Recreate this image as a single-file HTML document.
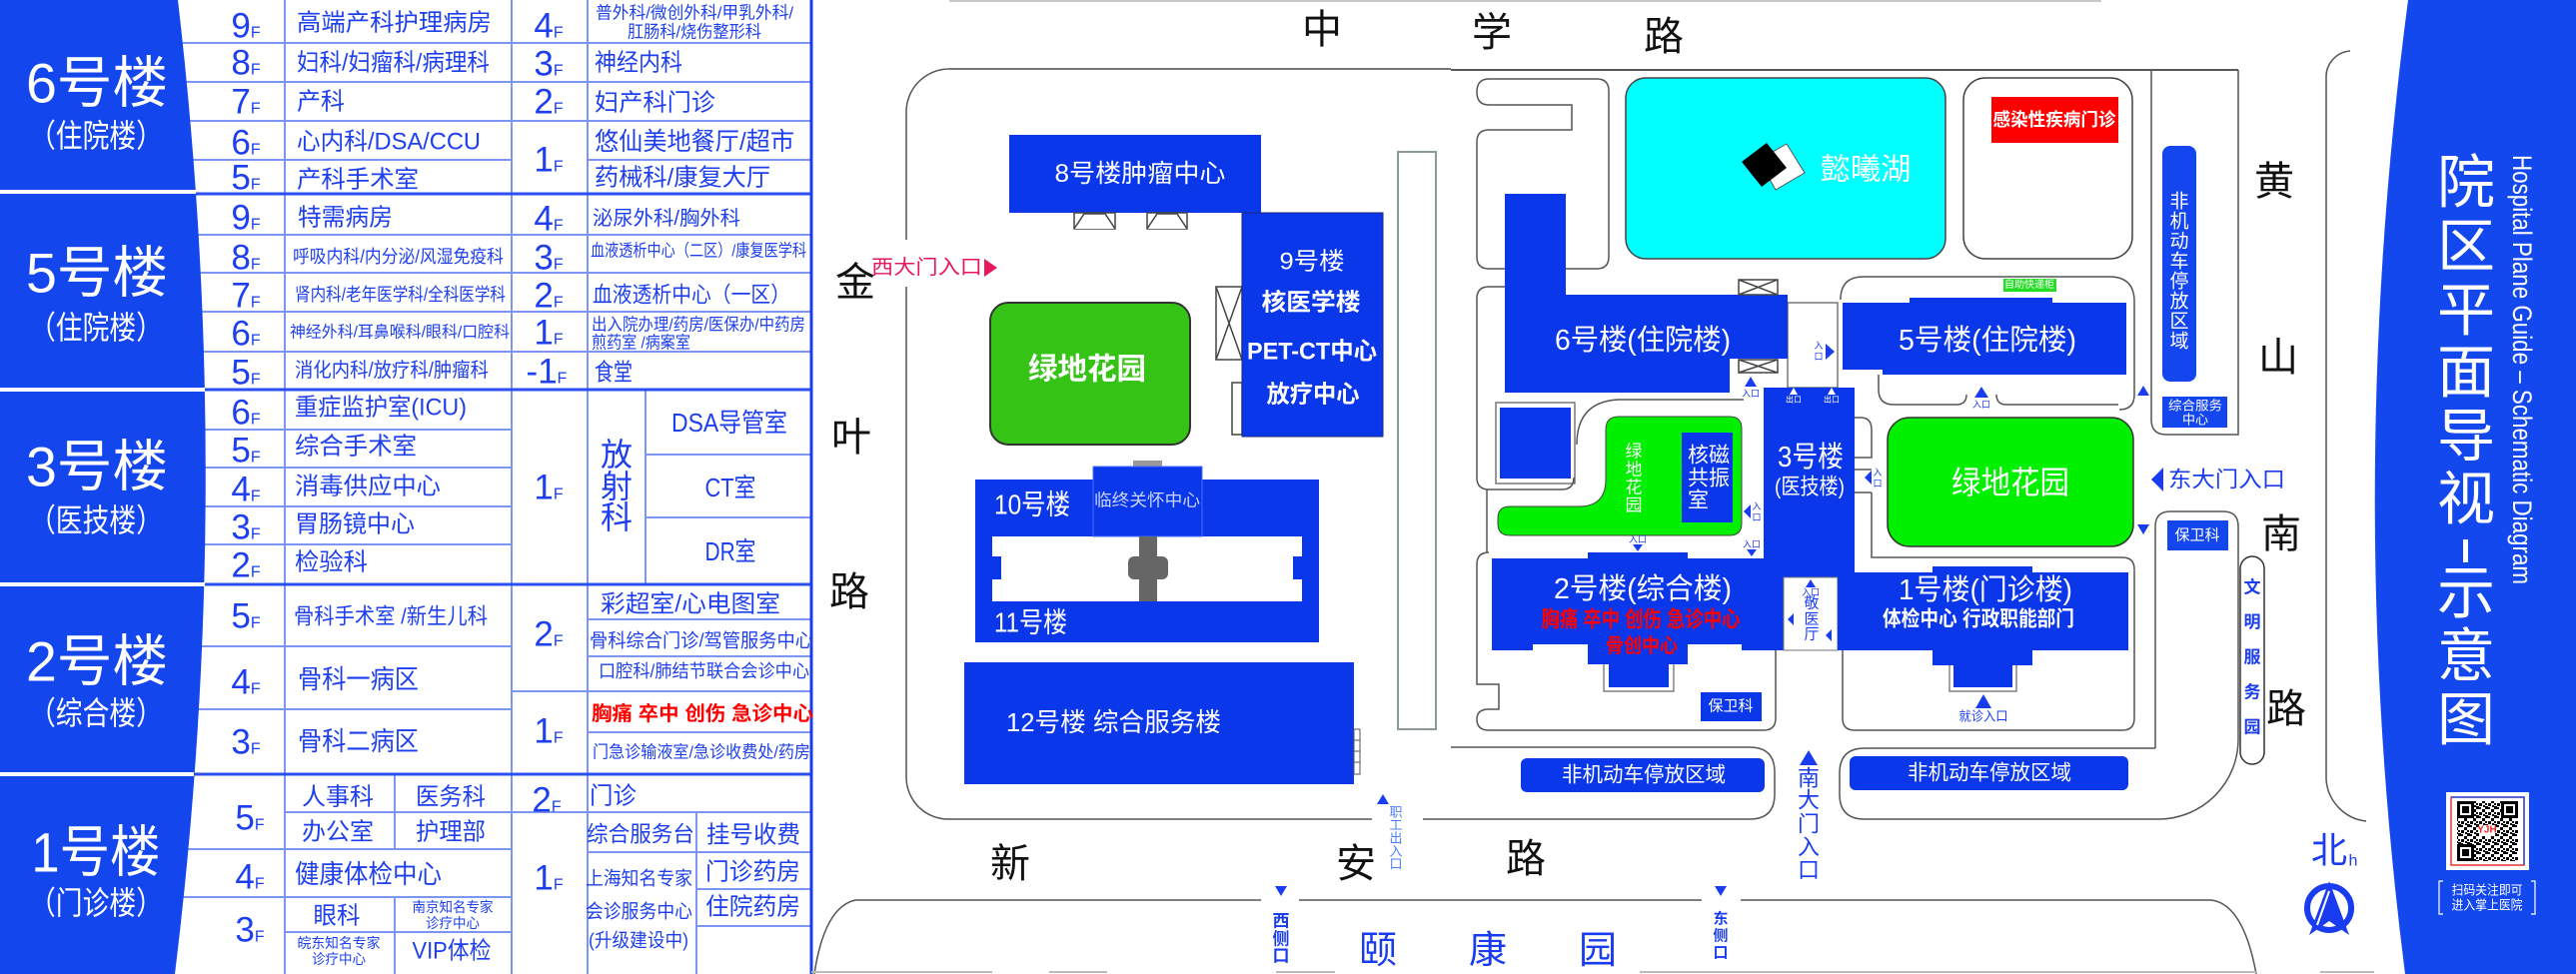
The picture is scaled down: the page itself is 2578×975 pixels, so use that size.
<!DOCTYPE html>
<html><head><meta charset="utf-8">
<style>
html,body{margin:0;padding:0;background:#fff;}
svg{display:block;}
text{font-family:"Liberation Sans","Noto Sans CJK SC",sans-serif;dominant-baseline:central;}
.ab{dominant-baseline:alphabetic;}
.tb{fill:#1d3fef;}
.wh{fill:#fff;}
.bk{fill:#111;}
.rd{fill:#ff0000;}
.bu{fill:#1a3cf0;}
.gl{stroke:#7d95f4;stroke-width:2;fill:none;}
.sl{stroke:#2b4ff0;stroke-width:3;fill:none;}
.ol{stroke:#555;stroke-width:1.5;fill:none;}
.bl{fill:#0b37ea;}
.door{stroke:#444;stroke-width:1.5;fill:#fff;}
</style></head><body>
<svg width="2578" height="975" viewBox="0 0 2578 975" xmlns="http://www.w3.org/2000/svg">
<defs>
<pattern id="qr" width="9" height="9" patternUnits="userSpaceOnUse">
<rect width="9" height="9" fill="#fff"/>
<rect x="0" y="0" width="3" height="3" fill="#000"/>
<rect x="6" y="3" width="3" height="3" fill="#000"/>
<rect x="3" y="6" width="3" height="3" fill="#000"/>
<rect x="3" y="3" width="2" height="2" fill="#000"/>
<rect x="6" y="7" width="2" height="2" fill="#000"/>
<rect x="1" y="5" width="2" height="2" fill="#000"/>
</pattern>
</defs>

<!-- ================= TABLE ================= -->
<path class="gl" d="M285,0V975 M512,0V975 M588,0V975 M646,390V585 M395,775V850 M395,898V975 M697,813V975"/>
<path class="gl" d="M150,43H512 M150,82H512 M150,121H512 M150,160H512
M150,235H512 M150,273H512 M150,312H512 M150,352H512
M150,430H512 M150,468H512 M150,507H512 M150,545H512
M150,647H512 M150,710H512
M285,813H512 M150,850H512 M150,898H512 M285,933H512
M512,43H812 M512,82H812 M512,121H812 M588,160H812
M512,235H812 M512,273H812 M512,312H812 M512,352H812
M646,455H812 M646,518H812
M588,620H812 M588,657H812 M512,692H812 M588,733H812
M512,813H812 M588,853H812 M697,890H812 M697,927H812"/>
<path class="sl" d="M150,194H812 M150,390H812 M150,585H812 M150,775H812"/>
<path d="M812,0V975" stroke="#1a3cf0" stroke-width="3"/>

<!-- blue side panel -->
<path d="M0,0 L178,0 Q235,487 175,975 L0,975Z" fill="#1446ee"/>
<path d="M0,192H196 M0,390H205 M0,585H205 M0,775H194" stroke="#fff" stroke-width="4"/>

<text class="wh" x="97" y="83" font-size="56" text-anchor="middle" textLength="142" lengthAdjust="spacingAndGlyphs">6号楼</text>
<text class="wh" x="96" y="136" font-size="32" text-anchor="middle" textLength="134" lengthAdjust="spacingAndGlyphs">（住院楼）</text>
<text class="wh" x="97" y="273" font-size="56" text-anchor="middle" textLength="142" lengthAdjust="spacingAndGlyphs">5号楼</text>
<text class="wh" x="96" y="328" font-size="32" text-anchor="middle" textLength="134" lengthAdjust="spacingAndGlyphs">（住院楼）</text>
<text class="wh" x="97" y="467" font-size="56" text-anchor="middle" textLength="142" lengthAdjust="spacingAndGlyphs">3号楼</text>
<text class="wh" x="96" y="521" font-size="32" text-anchor="middle" textLength="134" lengthAdjust="spacingAndGlyphs">（医技楼）</text>
<text class="wh" x="97" y="662" font-size="56" text-anchor="middle" textLength="142" lengthAdjust="spacingAndGlyphs">2号楼</text>
<text class="wh" x="96" y="714" font-size="32" text-anchor="middle" textLength="134" lengthAdjust="spacingAndGlyphs">（综合楼）</text>
<text class="wh" x="96" y="853" font-size="56" text-anchor="middle" textLength="129" lengthAdjust="spacingAndGlyphs">1号楼</text>
<text class="wh" x="96" y="904" font-size="32" text-anchor="middle" textLength="134" lengthAdjust="spacingAndGlyphs">（门诊楼）</text>

<!-- floor labels left -->
<g class="tb" text-anchor="middle">
<text class="ab" x="246" y="37.5"><tspan font-size="35">9</tspan><tspan font-size="16">F</tspan></text>
<text class="ab" x="246" y="74.5"><tspan font-size="35">8</tspan><tspan font-size="16">F</tspan></text>
<text class="ab" x="246" y="113.5"><tspan font-size="35">7</tspan><tspan font-size="16">F</tspan></text>
<text class="ab" x="246" y="154.5"><tspan font-size="35">6</tspan><tspan font-size="16">F</tspan></text>
<text class="ab" x="246" y="189.5"><tspan font-size="35">5</tspan><tspan font-size="16">F</tspan></text>
<text class="ab" x="246" y="229.5"><tspan font-size="35">9</tspan><tspan font-size="16">F</tspan></text>
<text class="ab" x="246" y="269.5"><tspan font-size="35">8</tspan><tspan font-size="16">F</tspan></text>
<text class="ab" x="246" y="307.5"><tspan font-size="35">7</tspan><tspan font-size="16">F</tspan></text>
<text class="ab" x="246" y="345.5"><tspan font-size="35">6</tspan><tspan font-size="16">F</tspan></text>
<text class="ab" x="246" y="384.5"><tspan font-size="35">5</tspan><tspan font-size="16">F</tspan></text>
<text class="ab" x="246" y="424.5"><tspan font-size="35">6</tspan><tspan font-size="16">F</tspan></text>
<text class="ab" x="246" y="462.5"><tspan font-size="35">5</tspan><tspan font-size="16">F</tspan></text>
<text class="ab" x="246" y="501.5"><tspan font-size="35">4</tspan><tspan font-size="16">F</tspan></text>
<text class="ab" x="246" y="539.5"><tspan font-size="35">3</tspan><tspan font-size="16">F</tspan></text>
<text class="ab" x="246" y="577.5"><tspan font-size="35">2</tspan><tspan font-size="16">F</tspan></text>
<text class="ab" x="246" y="628.5"><tspan font-size="35">5</tspan><tspan font-size="16">F</tspan></text>
<text class="ab" x="246" y="694.5"><tspan font-size="35">4</tspan><tspan font-size="16">F</tspan></text>
<text class="ab" x="246" y="754.5"><tspan font-size="35">3</tspan><tspan font-size="16">F</tspan></text>
<text class="ab" x="250" y="830.5"><tspan font-size="35">5</tspan><tspan font-size="16">F</tspan></text>
<text class="ab" x="250" y="889.5"><tspan font-size="35">4</tspan><tspan font-size="16">F</tspan></text>
<text class="ab" x="250" y="942.5"><tspan font-size="35">3</tspan><tspan font-size="16">F</tspan></text>
<!-- right -->
<text class="ab" x="549" y="37.5"><tspan font-size="35">4</tspan><tspan font-size="16">F</tspan></text>
<text class="ab" x="549" y="75.5"><tspan font-size="35">3</tspan><tspan font-size="16">F</tspan></text>
<text class="ab" x="549" y="113.5"><tspan font-size="35">2</tspan><tspan font-size="16">F</tspan></text>
<text class="ab" x="549" y="171.5"><tspan font-size="35">1</tspan><tspan font-size="16">F</tspan></text>
<text class="ab" x="549" y="230.5"><tspan font-size="35">4</tspan><tspan font-size="16">F</tspan></text>
<text class="ab" x="549" y="269.5"><tspan font-size="35">3</tspan><tspan font-size="16">F</tspan></text>
<text class="ab" x="549" y="307.5"><tspan font-size="35">2</tspan><tspan font-size="16">F</tspan></text>
<text class="ab" x="549" y="344.5"><tspan font-size="35">1</tspan><tspan font-size="16">F</tspan></text>
<text class="ab" x="547" y="383.5"><tspan font-size="35">-1</tspan><tspan font-size="16">F</tspan></text>
<text class="ab" x="549" y="499.5"><tspan font-size="35">1</tspan><tspan font-size="16">F</tspan></text>
<text class="ab" x="549" y="646.5"><tspan font-size="35">2</tspan><tspan font-size="16">F</tspan></text>
<text class="ab" x="549" y="743.5"><tspan font-size="35">1</tspan><tspan font-size="16">F</tspan></text>
<text class="ab" x="547" y="812.5"><tspan font-size="35">2</tspan><tspan font-size="16">F</tspan></text>
<text class="ab" x="549" y="890.5"><tspan font-size="35">1</tspan><tspan font-size="16">F</tspan></text>
</g>

<!-- dept texts -->
<g class="tb">
<text x="297" y="23" font-size="24" textLength="195" lengthAdjust="spacingAndGlyphs">高端产科护理病房</text>
<text x="297" y="63" font-size="24" textLength="193" lengthAdjust="spacingAndGlyphs">妇科/妇瘤科/病理科</text>
<text x="297" y="102" font-size="24" textLength="48" lengthAdjust="spacingAndGlyphs">产科</text>
<text x="297" y="142" font-size="24" textLength="184" lengthAdjust="spacingAndGlyphs">心内科/DSA/CCU</text>
<text x="297" y="180" font-size="24" textLength="122" lengthAdjust="spacingAndGlyphs">产科手术室</text>
<text x="298" y="218" font-size="24" textLength="95" lengthAdjust="spacingAndGlyphs">特需病房</text>
<text x="293" y="257" font-size="18" textLength="211" lengthAdjust="spacingAndGlyphs">呼吸内科/内分泌/风湿免疫科</text>
<text x="295" y="295" font-size="18" textLength="211" lengthAdjust="spacingAndGlyphs">肾内科/老年医学科/全科医学科</text>
<text x="290" y="333" font-size="16" textLength="220" lengthAdjust="spacingAndGlyphs">神经外科/耳鼻喉科/眼科/口腔科</text>
<text x="295" y="371" font-size="20" textLength="194" lengthAdjust="spacingAndGlyphs">消化内科/放疗科/肿瘤科</text>
<text x="295" y="408" font-size="24" textLength="172" lengthAdjust="spacingAndGlyphs">重症监护室(ICU)</text>
<text x="295" y="447" font-size="24" textLength="122" lengthAdjust="spacingAndGlyphs">综合手术室</text>
<text x="295" y="487" font-size="24" textLength="146" lengthAdjust="spacingAndGlyphs">消毒供应中心</text>
<text x="295" y="525" font-size="24" textLength="120" lengthAdjust="spacingAndGlyphs">胃肠镜中心</text>
<text x="295" y="563" font-size="24" textLength="73" lengthAdjust="spacingAndGlyphs">检验科</text>
<text x="294" y="617" font-size="22" textLength="194" lengthAdjust="spacingAndGlyphs">骨科手术室 /新生儿科</text>
<text x="298" y="680" font-size="26" textLength="121" lengthAdjust="spacingAndGlyphs">骨科一病区</text>
<text x="298" y="742" font-size="26" textLength="121" lengthAdjust="spacingAndGlyphs">骨科二病区</text>
<text x="295" y="875" font-size="26" textLength="147" lengthAdjust="spacingAndGlyphs">健康体检中心</text>
<g text-anchor="middle">
<text x="338" y="798" font-size="24" textLength="72" lengthAdjust="spacingAndGlyphs">人事科</text>
<text x="451" y="798" font-size="24" textLength="70" lengthAdjust="spacingAndGlyphs">医务科</text>
<text x="338" y="833" font-size="24" textLength="72" lengthAdjust="spacingAndGlyphs">办公室</text>
<text x="451" y="833" font-size="24" textLength="70" lengthAdjust="spacingAndGlyphs">护理部</text>
<text x="337" y="917" font-size="24" textLength="47" lengthAdjust="spacingAndGlyphs">眼科</text>
<text x="453" y="908" font-size="14" textLength="81" lengthAdjust="spacingAndGlyphs">南京知名专家</text>
<text x="453" y="924" font-size="14" textLength="54" lengthAdjust="spacingAndGlyphs">诊疗中心</text>
<text x="339" y="944" font-size="14" textLength="83" lengthAdjust="spacingAndGlyphs">皖东知名专家</text>
<text x="339" y="960" font-size="14" textLength="54" lengthAdjust="spacingAndGlyphs">诊疗中心</text>
<text x="452" y="952" font-size="24" textLength="79" lengthAdjust="spacingAndGlyphs">VIP体检</text>
<text x="617" y="455" font-size="32">放</text>
<text x="617" y="487" font-size="32">射</text>
<text x="617" y="518" font-size="32">科</text>
<text x="730" y="423" font-size="26" textLength="116" lengthAdjust="spacingAndGlyphs">DSA导管室</text>
<text x="731" y="488" font-size="26" textLength="51" lengthAdjust="spacingAndGlyphs">CT室</text>
<text x="731" y="552" font-size="26" textLength="51" lengthAdjust="spacingAndGlyphs">DR室</text>
</g>
<text x="596" y="13" font-size="17" textLength="198" lengthAdjust="spacingAndGlyphs">普外科/微创外科/甲乳外科/</text>
<text x="628" y="32" font-size="17" textLength="134" lengthAdjust="spacingAndGlyphs">肛肠科/烧伤整形科</text>
<text x="595" y="63" font-size="24" textLength="88" lengthAdjust="spacingAndGlyphs">神经内科</text>
<text x="595" y="103" font-size="24" textLength="121" lengthAdjust="spacingAndGlyphs">妇产科门诊</text>
<text x="595" y="142" font-size="25" textLength="200" lengthAdjust="spacingAndGlyphs">悠仙美地餐厅/超市</text>
<text x="595" y="178" font-size="24" textLength="176" lengthAdjust="spacingAndGlyphs">药械科/康复大厅</text>
<text x="593" y="219" font-size="20" textLength="148" lengthAdjust="spacingAndGlyphs">泌尿外科/胸外科</text>
<text x="591" y="251" font-size="17" textLength="216" lengthAdjust="spacingAndGlyphs">血液透析中心（二区）/康复医学科</text>
<text x="593" y="295" font-size="22" textLength="198" lengthAdjust="spacingAndGlyphs">血液透析中心（一区）</text>
<text x="592" y="325" font-size="17" textLength="214" lengthAdjust="spacingAndGlyphs">出入院办理/药房/医保办/中药房</text>
<text x="592" y="343" font-size="17" textLength="99" lengthAdjust="spacingAndGlyphs">煎药室 /病案室</text>
<text x="595" y="373" font-size="24" textLength="38" lengthAdjust="spacingAndGlyphs">食堂</text>
<text x="601" y="605" font-size="24" textLength="180" lengthAdjust="spacingAndGlyphs">彩超室/心电图室</text>
<text x="590" y="642" font-size="19" textLength="224" lengthAdjust="spacingAndGlyphs">骨科综合门诊/驾管服务中心</text>
<text x="599" y="672" font-size="18" textLength="211" lengthAdjust="spacingAndGlyphs">口腔科/肺结节联合会诊中心</text>
<text x="592" y="715" font-size="20" font-weight="bold" fill="#ff0000" textLength="222" lengthAdjust="spacingAndGlyphs">胸痛  卒中  创伤  急诊中心</text>
<text x="593" y="753" font-size="17" textLength="218" lengthAdjust="spacingAndGlyphs">门急诊输液室/急诊收费处/药房</text>
<text x="590" y="797" font-size="24" textLength="47" lengthAdjust="spacingAndGlyphs">门诊</text>
<text x="587" y="835" font-size="22" textLength="108" lengthAdjust="spacingAndGlyphs">综合服务台</text>
<text x="707" y="836" font-size="24" textLength="94" lengthAdjust="spacingAndGlyphs">挂号收费</text>
<text x="586" y="880" font-size="19" textLength="107" lengthAdjust="spacingAndGlyphs">上海知名专家</text>
<text x="586" y="913" font-size="19" textLength="107" lengthAdjust="spacingAndGlyphs">会诊服务中心</text>
<text x="589" y="942" font-size="19" textLength="100" lengthAdjust="spacingAndGlyphs">(升级建设中)</text>
<text x="706" y="873" font-size="24" textLength="95" lengthAdjust="spacingAndGlyphs">门诊药房</text>
<text x="706" y="908" font-size="24" textLength="95" lengthAdjust="spacingAndGlyphs">住院药房</text>
</g>

<!-- ================= MAP ================= -->
<path d="M950,1H2103" stroke="#c8c8c8" stroke-width="2"/>
<path d="M950,69H1452" stroke="#777" stroke-width="2"/>
<path d="M1452,70H2240" stroke="#222" stroke-width="1.5"/>
<!-- left campus outline -->
<path class="ol" d="M950,69 A43,43 0 0 0 907,112 V240 M907,287 V778 A42,42 0 0 0 949,820 H1373 M1424,820 H1751 Q1776,820 1776,795 V773 Q1776,748 1751,748 H1452"/>
<!-- vertical road rect -->
<rect x="1399" y="152" width="38" height="578" fill="none" stroke="#8a9a9a" stroke-width="2"/>
<!-- bottom road -->
<path class="ol" d="M815,975 Q825,908 856,901 H1262 M1300,901 H1703 M1742,901 H2213 Q2245,905 2258,975"/>
<path d="M812,973H993 M1050,973H1108 M1277,973H1336 M1641,973H2258 M2322,973H2376" stroke="#bbb" stroke-width="2"/>
<!-- right road -->
<path class="ol" d="M2352,51 A26,26 0 0 0 2328,78 V780 A45,45 0 0 0 2368,822"/>
<path class="ol" d="M2153,70 V420 Q2153,435 2168,435 H2240 V70"/>
<path class="ol" d="M2157,749 V527 Q2157,512 2172,512 H2225 Q2240,512 2240,527 V740 A80,80 0 0 1 2160,820"/>
<path class="ol" d="M2157,749 H1866 Q1841,749 1841,774 V795 Q1841,820 1866,820 H2160"/>
<rect x="2242" y="557" width="24" height="208" rx="12" fill="none" stroke="#333" stroke-width="1.5"/>

<!-- road names -->
<g class="bk" font-size="40" text-anchor="middle">
<text x="1323" y="30">中</text>
<text x="1493" y="33">学</text>
<text x="1665" y="37">路</text>
<text x="856" y="283">金</text>
<text x="852" y="438">叶</text>
<text x="850" y="593">路</text>
<text x="1011" y="865">新</text>
<text x="1357" y="865">安</text>
<text x="1527" y="860">路</text>
<text x="2276" y="182">黄</text>
<text x="2280" y="358">山</text>
<text x="2283" y="535">南</text>
<text x="2288" y="710">路</text>
</g>
<g class="bu" font-size="38" text-anchor="middle">
<text x="1379" y="952">颐</text>
<text x="1489" y="952">康</text>
<text x="1599" y="952">园</text>
</g>

<!-- west gate -->
<text x="872" y="268" font-size="20" fill="#e6195a" textLength="111" lengthAdjust="spacingAndGlyphs">西大门入口</text>
<polygon points="985,259 998,268 985,277" fill="#e6195a"/>

<!-- 8号楼 -->
<rect class="bl" x="1010" y="135" width="252" height="78"/>
<text class="wh" x="1141" y="174" font-size="25" text-anchor="middle" textLength="171" lengthAdjust="spacingAndGlyphs">8号楼肿瘤中心</text>
<g class="door">
<rect x="1075" y="213" width="41" height="16"/><path d="M1075,229 L1085,214 H1106 L1116,229"/>
<rect x="1148" y="213" width="40" height="16"/><path d="M1148,229 L1158,214 H1178 L1188,229"/>
<rect x="1217" y="287" width="26" height="73"/><path d="M1217,287 L1243,360 M1243,287 L1217,360"/>
<rect x="1233" y="383" width="10" height="52"/>
</g>
<!-- 9号楼 -->
<rect class="bl" x="1243" y="213" width="141" height="224" stroke="#1b2a7a" stroke-width="1"/>
<g class="wh" text-anchor="middle" font-weight="bold">
<text x="1313" y="262" font-size="24" font-weight="normal" textLength="65" lengthAdjust="spacingAndGlyphs">9号楼</text>
<text x="1312" y="303" font-size="24" textLength="99" lengthAdjust="spacingAndGlyphs">核医学楼</text>
<text x="1313" y="352" font-size="24" textLength="130" lengthAdjust="spacingAndGlyphs">PET-CT中心</text>
<text x="1314" y="395" font-size="24" textLength="93" lengthAdjust="spacingAndGlyphs">放疗中心</text>
</g>
<!-- left green garden -->
<rect x="991" y="303" width="200" height="142" rx="18" fill="#35c416" stroke="#333" stroke-width="2"/>
<text class="wh" x="1088" y="370" font-size="30" font-weight="bold" text-anchor="middle" textLength="118" lengthAdjust="spacingAndGlyphs">绿地花园</text>
<!-- 10/11 -->
<rect x="1134" y="461" width="29" height="6" fill="#999"/>
<rect class="bl" x="976" y="480" width="344" height="57"/>
<rect class="bl" x="1094" y="467" width="109" height="70" stroke="#4a6cf5" stroke-width="1"/>
<rect class="bl" x="976" y="537" width="17" height="65"/>
<rect class="bl" x="1303" y="537" width="17" height="65"/>
<rect class="bl" x="993" y="557" width="9" height="23"/>
<rect class="bl" x="1294" y="557" width="9" height="23"/>
<rect x="1140" y="537" width="18" height="65" fill="#666"/>
<rect x="1129" y="557" width="40" height="23" rx="6" fill="#666"/>
<rect class="bl" x="976" y="602" width="344" height="41"/>
<text class="wh" x="995" y="505" font-size="28" textLength="76" lengthAdjust="spacingAndGlyphs">10号楼</text>
<text x="1148" y="501" font-size="17" text-anchor="middle" fill="#c9d5ff" textLength="106" lengthAdjust="spacingAndGlyphs">临终关怀中心</text>
<text class="wh" x="995" y="623" font-size="28" textLength="73" lengthAdjust="spacingAndGlyphs">11号楼</text>
<!-- 12号楼 -->
<rect class="bl" x="965" y="663" width="390" height="122"/>
<text class="wh" x="1007" y="723" font-size="26" textLength="215" lengthAdjust="spacingAndGlyphs">12号楼  综合服务楼</text>
<rect x="1355" y="730" width="6" height="45" fill="#fff" stroke="#555" stroke-width="1"/>
<path d="M1355,741H1361 M1355,752H1361 M1355,763H1361" stroke="#555"/>
<!-- 职工出入口 -->
<polygon points="1384,795 1390,805 1378,805" fill="#1a3cf0"/>
<g fill="#4d7ff5" font-size="13" text-anchor="middle">
<text x="1397" y="813">职</text><text x="1397" y="826">工</text><text x="1397" y="839">出</text><text x="1397" y="852">入</text><text x="1397" y="865">口</text>
</g>
<!-- 西侧口 / 东侧口 -->
<polygon points="1276,887 1288,887 1282,897" fill="#1a3cf0"/>
<g class="bu" font-size="17" font-weight="bold" text-anchor="middle">
<text x="1282" y="922">西</text><text x="1282" y="940">侧</text><text x="1282" y="957">口</text>
</g>
<polygon points="1716,887 1728,887 1722,897" fill="#1a3cf0"/>
<g class="bu" font-size="15" font-weight="bold" text-anchor="middle">
<text x="1722" y="920">东</text><text x="1722" y="937">侧</text><text x="1722" y="954">口</text>
</g>

<!-- RIGHT CAMPUS outlines -->
<path class="ol" d="M1490,79 H1598 Q1610,79 1610,91 V257 Q1610,269 1598,269 H1490 Q1478,269 1478,257 V142 Q1478,130 1490,130 H1573 V105 H1490 Q1478,105 1478,92 Q1478,79 1490,79Z"/>
<path class="ol" d="M1506,287 H1490 Q1478,287 1478,299 V478 Q1478,490 1490,490 H1563 Q1575,490 1575,478"/>
<path class="ol" d="M1578,445 Q1578,402 1620,400 H1745"/>
<rect x="1497" y="403" width="79" height="81" fill="none" stroke="#555" stroke-width="1.2"/>
<path class="ol" d="M1488,490 V553"/>
<path class="ol" d="M1490,553 Q1478,553 1478,565 V685 H1500 V710 H1490 Q1478,710 1478,720 Q1478,731 1490,731 H1765 Q1777,731 1777,719 V651"/>
<path class="ol" d="M1873,493 V558 H2124 Q2136,558 2136,570 V719 Q2136,731 2124,731 H1856 Q1844,731 1844,719 V651"/>
<path class="ol" d="M1842,300 Q1842,277 1865,277 H2111 Q2136,277 2136,302 V395 Q2136,410 2121,410"/>
<path class="ol" d="M1880,375 V390 Q1880,405 1895,405 H1958 Q1968,405 1968,395 M1998,395 Q1998,405 2008,405 H2120"/>
<path class="ol" d="M1856,418 H1862 Q1873,418 1873,430 V458 H1856 M1856,470 H1873 M1856,493 H1873"/>
<rect x="1789" y="303" width="50" height="85" fill="none" stroke="#555" stroke-width="1.2"/>

<!-- lake -->
<rect x="1627" y="78" width="320" height="181" rx="20" fill="#00ffff" stroke="#444" stroke-width="1.5"/>
<polygon points="1788,144 1806,173 1777,190 1760,160" fill="#fff" stroke="#555" stroke-width="1"/>
<polygon points="1768,143 1788,168 1763,187 1743,162" fill="#000"/>
<text class="wh" x="1867" y="170" font-size="30" text-anchor="middle" textLength="91" lengthAdjust="spacingAndGlyphs">懿曦湖</text>
<!-- infection -->
<rect x="1965" y="78" width="169" height="181" rx="22" fill="none" stroke="#444" stroke-width="1.5"/>
<rect x="1993" y="97" width="127" height="46" fill="#ff0000"/>
<text class="wh" x="2056" y="120" font-size="18" font-weight="bold" text-anchor="middle" textLength="123" lengthAdjust="spacingAndGlyphs">感染性疾病门诊</text>

<!-- 6号楼 -->
<path class="bl" d="M1506,194 L1567,194 L1567,295 L1789,295 L1789,359 L1731,359 L1731,393 L1506,393 Z"/>
<text class="wh" x="1644" y="341" font-size="29" text-anchor="middle" textLength="176" lengthAdjust="spacingAndGlyphs">6号楼(住院楼)</text>
<g class="door">
<rect x="1740" y="280" width="39" height="15"/><path d="M1740,280 L1779,295 M1779,280 L1740,295"/>
<rect x="1740" y="360" width="39" height="13"/><path d="M1740,360 L1779,373 M1779,360 L1740,373"/>
</g>
<!-- small blue square -->
<rect class="bl" x="1501" y="408" width="71" height="71"/>
<!-- small green -->
<path d="M1620,417 L1731,417 Q1743,417 1743,429 L1743,524 Q1743,536 1731,536 L1511,536 Q1499,536 1499,524 L1499,519 Q1499,507 1511,507 L1580,507 Q1607,507 1607,480 L1607,430 Q1607,417 1620,417 Z" fill="#00f000" stroke="#444" stroke-width="1"/>
<g class="wh" font-size="17" text-anchor="middle">
<text x="1635" y="452">绿</text><text x="1635" y="470">地</text><text x="1635" y="488">花</text><text x="1635" y="506">园</text>
</g>
<rect class="bl" x="1683" y="433" width="51" height="90"/>
<g class="wh" font-size="21">
<text x="1689" y="456" textLength="42" lengthAdjust="spacingAndGlyphs">核磁</text>
<text x="1689" y="479" textLength="42" lengthAdjust="spacingAndGlyphs">共振</text>
<text x="1689" y="501">室</text>
</g>
<!-- 3号楼 -->
<rect class="bl" x="1765" y="388" width="91" height="190"/>
<text class="wh" x="1812" y="458" font-size="29" text-anchor="middle" textLength="66" lengthAdjust="spacingAndGlyphs">3号楼</text>
<text class="wh" x="1811" y="487" font-size="22" text-anchor="middle" textLength="70" lengthAdjust="spacingAndGlyphs">(医技楼)</text>
<!-- 5号楼 -->
<path class="bl" d="M1844,303 H1911 V298 H2054 V303 H2128 V375 H1884 V370 H1844 Z"/>
<text class="wh" x="1989" y="341" font-size="29" text-anchor="middle" textLength="178" lengthAdjust="spacingAndGlyphs">5号楼(住院楼)</text>
<rect x="2005" y="279" width="53" height="13" fill="#22dd22"/>
<text class="wh" x="2031" y="285.5" font-size="10" text-anchor="middle" textLength="50" lengthAdjust="spacingAndGlyphs">自助快递柜</text>
<!-- big green -->
<rect x="1889" y="418" width="246" height="129" rx="22" fill="#00f000" stroke="#333" stroke-width="1.5"/>
<text class="wh" x="2012" y="483" font-size="32" text-anchor="middle" textLength="118" lengthAdjust="spacingAndGlyphs">绿地花园</text>
<!-- 2号楼 -->
<path class="bl" d="M1493,559 H1589 V553 H1689 V559 H1785 V651 H1743 V645 H1689 V665 H1670 V688 H1610 V665 H1589 V645 H1534 V651 H1493 Z"/>
<path d="M1605,665 V692 H1675 V665" fill="none" stroke="#666" stroke-width="1.2"/>
<text class="wh" x="1644" y="590" font-size="29" text-anchor="middle" textLength="178" lengthAdjust="spacingAndGlyphs">2号楼(综合楼)</text>
<text x="1642" y="620" font-size="22" font-weight="bold" fill="#ff0000" text-anchor="middle" textLength="199" lengthAdjust="spacingAndGlyphs">胸痛 卒中 创伤 急诊中心</text>
<text x="1643" y="647" font-size="20" font-weight="bold" fill="#ff0000" text-anchor="middle" textLength="72" lengthAdjust="spacingAndGlyphs">骨创中心</text>
<!-- connector & 敬医厅 -->
<rect class="bl" x="1785" y="553" width="71" height="25"/>
<rect x="1785" y="578" width="54" height="73" fill="#fff" stroke="#777" stroke-width="1"/>
<g class="bu" font-size="15" text-anchor="middle">
<text x="1813" y="604">敬</text><text x="1813" y="620">医</text><text x="1813" y="635">厅</text>
</g>
<!-- 1号楼 -->
<path class="bl" d="M1839,573 H1934 V567 H2034 V573 H2130 V651 H2034 V666 H2014 V688 H1955 V666 H1934 V651 H1839 Z"/>
<path d="M1951,666 V692 H2018 V666" fill="none" stroke="#666" stroke-width="1.2"/>
<text class="wh" x="1987" y="591" font-size="29" text-anchor="middle" textLength="174" lengthAdjust="spacingAndGlyphs">1号楼(门诊楼)</text>
<text class="wh" x="1980" y="620" font-size="21" font-weight="bold" text-anchor="middle" textLength="192" lengthAdjust="spacingAndGlyphs">体检中心  行政职能部门</text>
<polygon points="1985,695 1993,709 1977,709" fill="#1a3cf0"/>
<text class="bu" x="1985" y="717" font-size="13" text-anchor="middle" textLength="49" lengthAdjust="spacingAndGlyphs">就诊入口</text>
<!-- 保卫科 -->
<rect class="bl" x="1702" y="693" width="61" height="29"/>
<text class="wh" x="1732" y="707" font-size="15" text-anchor="middle">保卫科</text>

<!-- small markers -->
<g class="bu" font-size="9" text-anchor="middle">
<polygon points="1752,377 1758,387 1746,387"/><text x="1752" y="394">入口</text>
<polygon points="1983,387 1990,398 1976,398"/><text x="1983" y="405">入口</text>
<polygon points="2145,386 2151,396 2139,396"/>
<polygon points="2139,525 2151,525 2145,535"/>
<text x="1820" y="346">入</text><text x="1820" y="357">口</text><polygon points="1827,344 1836,352 1827,360"/>
<polygon points="1873,471 1873,485 1866,478"/><text x="1879" y="473">入</text><text x="1879" y="484">口</text>
<polygon points="1752,505 1752,519 1745,512"/><text x="1758" y="507">入</text><text x="1758" y="518">口</text>
<text x="1639" y="540">入口</text><polygon points="1634,545 1644,545 1639,552"/>
<text x="1753" y="545">入口</text><polygon points="1748,550 1758,550 1753,557"/>
<polygon points="1812,580 1817,588 1807,588"/><text x="1812" y="593">入口</text>
<polygon points="1795,614 1795,626 1789,620"/><polygon points="1833,630 1833,642 1827,636"/>
</g>
<g class="wh" font-size="8" text-anchor="middle">
<polygon points="1795,388 1799,395 1791,395"/><text x="1795" y="400">出口</text>
<polygon points="1833,388 1837,395 1829,395"/><text x="1833" y="400">出口</text>
</g>

<!-- parking -->
<rect class="bl" x="1522" y="759" width="244" height="34" rx="6" fill="#1446f0"/>
<text class="wh" x="1645" y="776" font-size="21" text-anchor="middle" textLength="164" lengthAdjust="spacingAndGlyphs">非机动车停放区域</text>
<rect class="bl" x="1851" y="757" width="279" height="34" rx="6"/>
<text class="wh" x="1991" y="774" font-size="21" text-anchor="middle" textLength="164" lengthAdjust="spacingAndGlyphs">非机动车停放区域</text>
<!-- 南大门入口 -->
<polygon points="1810,751 1819,766 1801,766" fill="#1a3cf0"/>
<g class="bu" font-size="22" text-anchor="middle">
<text x="1810" y="779">南</text><text x="1810" y="801">大</text><text x="1810" y="825">门</text><text x="1810" y="848">入</text><text x="1810" y="871">口</text>
</g>

<!-- right road contents -->
<rect x="2164" y="146" width="34" height="236" rx="8" fill="#1446f0"/>
<g class="wh" font-size="19" text-anchor="middle">
<text x="2181" y="202">非</text><text x="2181" y="222">机</text><text x="2181" y="242">动</text><text x="2181" y="262">车</text><text x="2181" y="282">停</text><text x="2181" y="302">放</text><text x="2181" y="322">区</text><text x="2181" y="342">域</text>
</g>
<rect x="2164" y="397" width="65" height="31" fill="#1446f0"/>
<text class="wh" x="2197" y="406" font-size="13" text-anchor="middle" textLength="54" lengthAdjust="spacingAndGlyphs">综合服务</text>
<text class="wh" x="2197" y="420" font-size="13" text-anchor="middle">中心</text>
<polygon points="2165,468 2165,492 2153,480" fill="#1a3cf0"/>
<text class="bu" x="2170" y="480" font-size="22" textLength="117" lengthAdjust="spacingAndGlyphs">东大门入口</text>
<rect x="2169" y="521" width="61" height="30" fill="#1446f0"/>
<text class="wh" x="2199" y="536" font-size="15" text-anchor="middle">保卫科</text>
<g class="bu" font-size="17" font-weight="bold" text-anchor="middle">
<text x="2254" y="588">文</text><text x="2254" y="623">明</text><text x="2254" y="658">服</text><text x="2254" y="693">务</text><text x="2254" y="728">园</text>
</g>
<!-- compass -->
<text class="bu" x="2331" y="851" font-size="36" text-anchor="middle">北</text>
<text class="bu" x="2355" y="862" font-size="16" text-anchor="middle">h</text>
<circle cx="2331" cy="909" r="22" fill="none" stroke="#1a3cf0" stroke-width="6"/>
<polygon points="2331,882 2351,936 2331,922 2311,936" fill="#1a3cf0"/>
<line x1="2331" y1="892" x2="2319" y2="926" stroke="#fff" stroke-width="2"/>

<!-- ================= RIGHT PANEL ================= -->
<path d="M2410,0 H2578 V975 H2407 Q2345,490 2410,0 Z" fill="#1448ef"/>
<g class="wh" font-size="58" text-anchor="middle">
<text x="2468" y="183">院</text>
<text x="2468" y="247">区</text>
<text x="2468" y="311">平</text>
<text x="2468" y="373">面</text>
<text x="2468" y="437">导</text>
<text x="2468" y="500">视</text>
<text x="2468" y="594">示</text>
<text x="2468" y="657">意</text>
<text x="2468" y="721">图</text>
</g>
<rect x="2465" y="540" width="5" height="23" fill="#fff"/>
<text class="wh ab" transform="translate(2515,155) rotate(90)" font-size="27" textLength="430" lengthAdjust="spacingAndGlyphs">Hospital Plane Guide – Schematic Diagram</text>
<!-- QR -->
<rect x="2448" y="793" width="83" height="78" fill="#fff"/>
<rect x="2453" y="798" width="73" height="68" fill="none" stroke="#e33" stroke-width="1.5"/>
<path d="M2453,798 H2526 V866" fill="none" stroke="#3050f0" stroke-width="1.5"/>
<rect x="2459" y="802" width="61" height="60" fill="url(#qr)"/>
<g>
<rect x="2459" y="802" width="17" height="17" fill="#000"/><rect x="2462" y="805" width="11" height="11" fill="#fff"/><rect x="2464" y="807" width="7" height="7" fill="#000"/>
<rect x="2503" y="802" width="17" height="17" fill="#000"/><rect x="2506" y="805" width="11" height="11" fill="#fff"/><rect x="2508" y="807" width="7" height="7" fill="#000"/>
<rect x="2459" y="845" width="17" height="17" fill="#000"/><rect x="2462" y="848" width="11" height="11" fill="#fff"/><rect x="2464" y="850" width="7" height="7" fill="#000"/>
<rect x="2481" y="826" width="16" height="11" fill="#fff"/>
</g>
<text x="2489" y="831" font-size="10" font-weight="bold" fill="#e22" text-anchor="middle">YJH</text>
<g class="wh" font-size="13" text-anchor="middle">
<text x="2489" y="891" textLength="71" lengthAdjust="spacingAndGlyphs">扫码关注即可</text>
<text x="2489" y="906" textLength="71" lengthAdjust="spacingAndGlyphs">进入掌上医院</text>
</g>
<path d="M2445,882 H2441 V915 H2445 M2533,882 H2537 V915 H2533" fill="none" stroke="#fff" stroke-width="1.2"/>
</svg>
</body></html>
